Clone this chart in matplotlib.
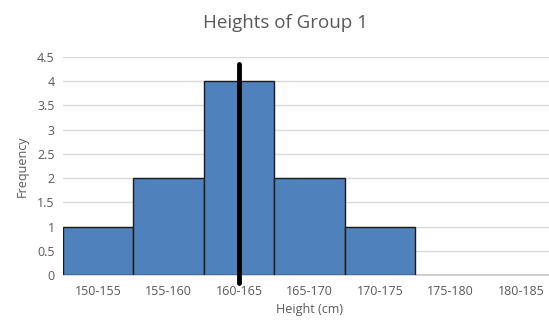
import matplotlib.pyplot as plt

# data
bins = ['150-155', '155-160', '160-165', '165-170', '170-175', '175-180', '180-185']
freq = [1, 2, 4, 2, 1, 0, 0]
marker_pos = 2          # category index of the vertical marker line
marker_range = [-0.17, 4.36]
yticks = [0, 0.5, 1, 1.5, 2, 2.5, 3, 3.5, 4, 4.5]

plt.rcParams['font.family'] = ['Open Sans', 'DejaVu Sans']

fig = plt.figure(figsize=(5.49, 3.25), dpi=100)
ax = fig.add_axes([0.1148, 0.1538, 0.898, 0.6708])

x = list(range(len(bins)))
ax.bar(x, freq, width=1.0, color='#4F81BD', edgecolor='#1a1a1a', linewidth=1, zorder=3)
ax.plot([marker_pos, marker_pos], marker_range, color='black', linewidth=3.5,
        solid_capstyle='round', zorder=4, clip_on=False)

ax.set_xlim(-0.5, len(bins) - 0.5)
ax.set_ylim(0, 4.5)
ax.set_yticks(yticks)
ax.set_yticklabels([f'{t:g}' for t in yticks])
ax.set_xticks(x)
ax.set_xticklabels(bins)
ax.yaxis.grid(True, color='#d9d9d9', linewidth=1, zorder=0)
ax.tick_params(length=0, labelsize=9, colors='#595959', pad=6)
ax.tick_params(axis='x', pad=7)
for s in ['top', 'right', 'left']:
    ax.spines[s].set_visible(False)
ax.spines['bottom'].set_color('#d9d9d9')

ax.set_xlabel('Height (cm)', fontsize=9, color='#595959', labelpad=4)
ax.set_ylabel('Frequency', fontsize=9, color='#595959', labelpad=6)
fig.text(0.52, 0.93, 'Heights of Group 1', fontsize=13.5, color='#595959',
         ha='center', va='center')

fig.savefig('out.png', dpi=100)
